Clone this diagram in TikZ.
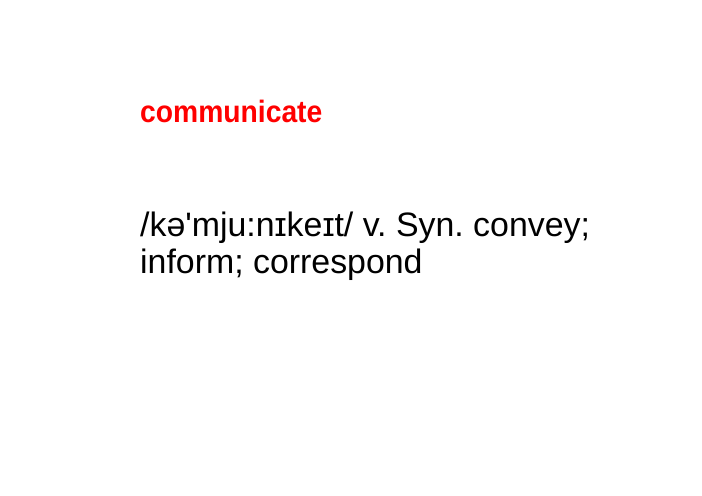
\documentclass[tikz,border=0pt]{standalone}
\usepackage{fontspec}
\setmainfont{Liberation Sans}
\newfontfamily\deffont{Liberation Sans}[Ligatures=TeXOff]
\tikzset{
  headword/.style={anchor=base west, inner sep=0pt, text=red, font=\fontsize{31}{34}\selectfont\bfseries},
  deftext/.style={anchor=base west, inner sep=0pt, text=black, font=\deffont\fontsize{34}{38}\selectfont\frenchspacing, align=left}
}
\begin{document}
\begin{tikzpicture}[x=1bp,y=1bp]
\useasboundingbox[fill=white] (0,0) rectangle (702,496);
\node[headword] (word) at (140,373) {\scalebox{0.915}[1]{communicate}};
\node[deftext] (def) at (140,222) {/kə'mju:nɪkeɪt/ v. Syn. convey;\\inform; correspond};
\end{tikzpicture}
\end{document}
